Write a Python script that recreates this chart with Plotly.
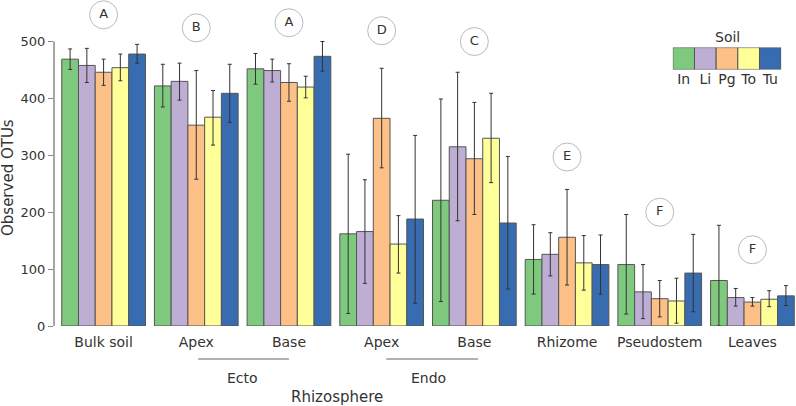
import plotly.graph_objects as go

groups = ["Bulk soil", "Ecto Apex", "Ecto Base", "Endo Apex", "Endo Base", "Rhizome", "Pseudostem", "Leaves"]
tick_labels = ["Bulk soil", "Apex", "Base", "Apex", "Base", "Rhizome", "Pseudostem", "Leaves"]
soils = ["In", "Li", "Pg", "To", "Tu"]
soil_colors = ["#7fc97f", "#beaed4", "#fdc086", "#ffff99", "#386cb0"]

# mean observed OTUs per soil, one value per group
otu_mean = {
    "In": [469, 422, 452, 162, 221, 117, 108, 80],
    "Li": [458, 430, 449, 166, 315, 126, 60, 50],
    "Pg": [446, 353, 428, 365, 294, 156, 48, 42],
    "To": [454, 367, 420, 144, 330, 111, 44, 47],
    "Tu": [478, 409, 474, 188, 181, 108, 93, 53],
}
# top and bottom of the error bars
otu_high = {
    "In": [487, 460, 479, 302, 399, 178, 196, 177],
    "Li": [488, 462, 469, 257, 446, 164, 108, 66],
    "Pg": [469, 449, 461, 453, 393, 240, 80, 50],
    "To": [478, 414, 439, 194, 409, 159, 84, 62],
    "Tu": [495, 460, 500, 335, 298, 160, 161, 71],
}
otu_low = {
    "In": [451, 385, 425, 22, 43, 56, 21, 0],
    "Li": [428, 397, 429, 75, 185, 88, 13, 35],
    "Pg": [423, 258, 395, 278, 196, 72, 16, 35],
    "To": [431, 318, 401, 93, 252, 63, 5, 34],
    "Tu": [462, 358, 448, 40, 65, 56, 25, 36],
}

letters = ["A", "B", "A", "D", "C", "E", "F", "F"]
letter_y = [547, 524, 533, 519, 500, 297, 200, 134]

font = "DejaVu Sans"
txt = "#333333"

fig = go.Figure()

for soil, col in zip(soils, soil_colors):
    m = otu_mean[soil]
    up = [h - v for h, v in zip(otu_high[soil], m)]
    dn = [v - l for v, l in zip(m, otu_low[soil])]
    fig.add_trace(go.Bar(
        x=groups, y=m, name=soil,
        marker=dict(color=col, line=dict(color="#555555", width=1)),
        error_y=dict(type="data", symmetric=False, array=up, arrayminus=dn,
                     color="#333333", thickness=1, width=2),
        showlegend=False, hoverinfo="skip",
    ))

# significance letters in circles
fig.add_trace(go.Scatter(
    x=groups, y=letter_y, mode="markers+text", text=letters,
    textposition="middle center",
    textfont=dict(family=font, size=13, color=txt),
    marker=dict(symbol="circle", size=28, color="white",
                line=dict(color="#bbbbbb", width=1)),
    showlegend=False, hoverinfo="skip",
))

# legend drawn as a tiny bar strip
fig.add_trace(go.Bar(
    x=soils, y=[1] * len(soils), width=1,
    marker=dict(color=soil_colors, line=dict(color="#555555", width=1)),
    xaxis="x2", yaxis="y2", showlegend=False, hoverinfo="skip",
))


def label(text, x, y, xref="paper", size=14, **kw):
    return dict(text=text, x=x, xref=xref, y=y, yref="paper", showarrow=False,
                xanchor="center", yanchor="middle", font=dict(size=size), **kw)


fig.update_layout(
    width=796, height=406,
    margin=dict(l=54, r=0, t=0, b=80),
    paper_bgcolor="white", plot_bgcolor="white",
    font=dict(family=font, size=13, color=txt),
    barmode="group", bargap=0.097, bargroupgap=0,
    xaxis=dict(
        type="category", range=[-0.535, 7.47],
        tickvals=groups, ticktext=tick_labels,
        showline=False, showgrid=False, zeroline=False, ticks="",
        tickfont=dict(size=14), ticklabelstandoff=6,
    ),
    yaxis=dict(
        range=[0, 573], tickvals=[0, 100, 200, 300, 400, 500],
        showgrid=False, zeroline=False, showline=False,
        ticks="outside", ticklen=5, tickcolor="#888888",
        tickfont=dict(size=13),
    ),
    xaxis2=dict(
        domain=[0.834, 0.980], anchor="y2", range=[-0.5, 4.5],
        showgrid=False, zeroline=False, showline=False, ticks="",
        tickfont=dict(size=14),
    ),
    yaxis2=dict(
        domain=[0.787, 0.854], anchor="x2", range=[0, 1],
        showgrid=False, zeroline=False, showline=False, showticklabels=False,
    ),
    shapes=[
        dict(type="line", xref="paper", yref="y", x0=0, x1=0, y0=0, y1=500,
             line=dict(color="#888888", width=1.5)),
        dict(type="line", xref="x", yref="paper", x0=1.02, x1=2, y0=-0.101, y1=-0.101,
             line=dict(color="#999999", width=1.5)),
        dict(type="line", xref="x", yref="paper", x0=3.05, x1=4.04, y0=-0.101, y1=-0.101,
             line=dict(color="#999999", width=1.5)),
    ],
    annotations=[
        label("Ecto", 1.5, -0.158, xref="x"),
        label("Endo", 3.5, -0.158, xref="x"),
        label("Rhizosphere", (337 - 54) / 742, -0.217, size=15),
        label("Observed OTUs", -0.062, 0.457, size=15, textangle=-90),
        label("Soil", (727 - 54) / 742, 0.887),
    ],
)

fig.write_html("out.html", config={"displayModeBar": False},
               post_script="document.body.style.margin='0';")
